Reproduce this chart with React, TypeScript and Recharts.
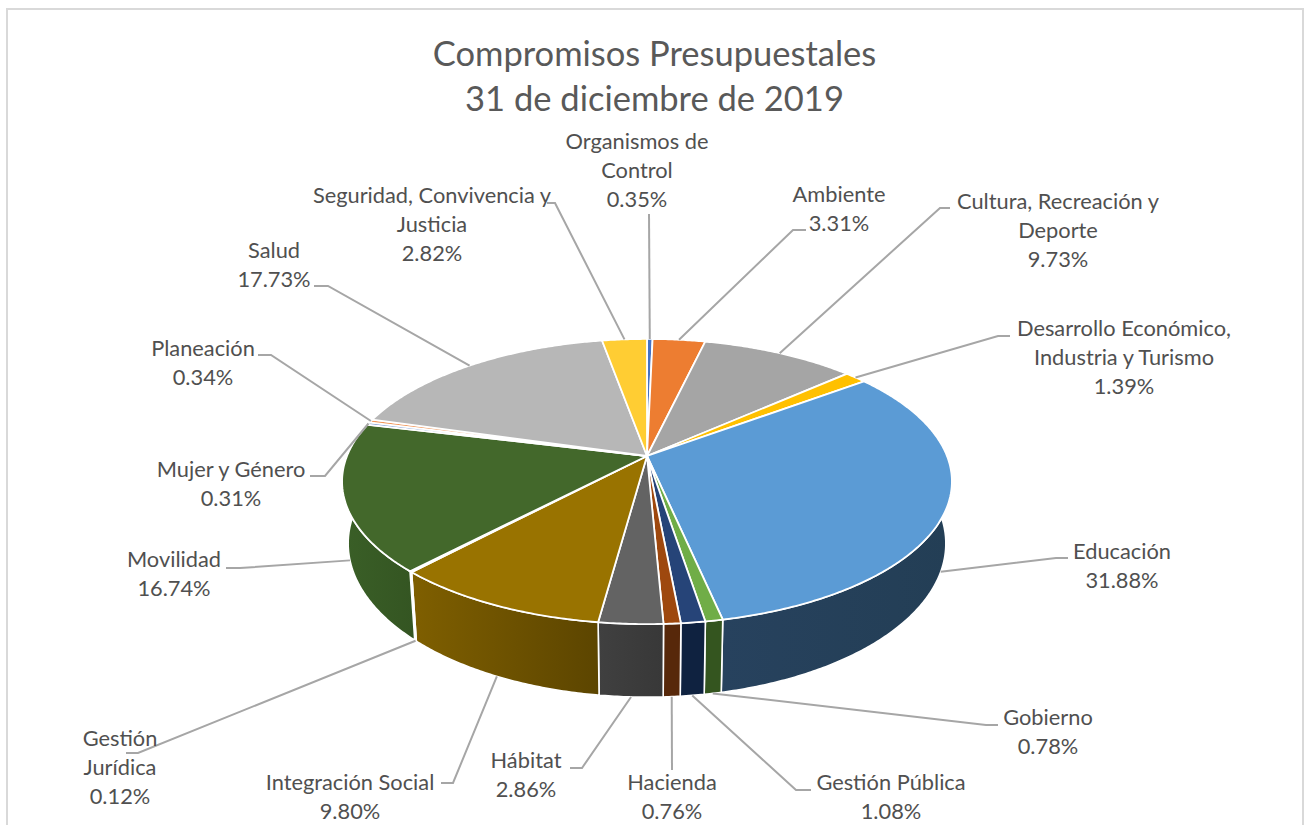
import React from 'react';
import { PieChart, Pie } from 'recharts';

const categories = [
  'Organismos de\nControl',
  'Ambiente',
  'Cultura, Recreación y\nDeporte',
  'Desarrollo Económico,\nIndustria y Turismo',
  'Educación',
  'Gobierno',
  'Gestión Pública',
  'Hacienda',
  'Hábitat',
  'Integración Social',
  'Gestión\nJurídica',
  'Movilidad',
  'Mujer y Género',
  'Planeación',
  'Salud',
  'Seguridad, Convivencia y\nJusticia',
];
const shares = [0.35, 3.31, 9.73, 1.39, 31.88, 0.78, 1.08, 0.76, 2.86, 9.8, 0.12, 16.74, 0.31, 0.34, 17.73, 2.82];
const topColors = [
  '#4472c4', '#ed7d31', '#a5a5a5', '#ffc000', '#5b9bd5', '#70ad47', '#264478', '#9e480e',
  '#636363', '#997300', '#255e91', '#43682b', '#698ed0', '#f1975a', '#b7b7b7', '#ffcd33',
];
const wallLeft = [
  '#27426f', '#8a4a1d', '#626262', '#977200', '#27425e', '#34551f', '#0f2240', '#57280a',
  '#404040', '#7f5f00', '#16385a', '#3a5f27', '#3e5a8a', '#8f5a36', '#6d6d6d', '#98791e',
];
const wallRight = [
  '#27426f', '#8a4a1d', '#626262', '#977200', '#233e55', '#34551f', '#0f2240', '#57280a',
  '#383838', '#5c4500', '#16385a', '#345522', '#3e5a8a', '#8f5a36', '#6d6d6d', '#98791e',
];

// where each label sits: centre x, first line y, then the leader line start and elbow
const labelSpots = [
  { x: 637, y: 140, from: [649, 214], elbow: [649, 214] },
  { x: 839, y: 193, from: [806, 230], elbow: [793, 230] },
  { x: 1058, y: 200, from: [950, 208], elbow: [940, 208] },
  { x: 1124, y: 327, from: [1010, 336], elbow: [998, 336] },
  { x: 1122, y: 550, from: [1068, 558], elbow: [1056, 558] },
  { x: 1048, y: 716, from: [998, 725], elbow: [986, 725] },
  { x: 891, y: 781, from: [811, 790], elbow: [796, 790] },
  { x: 672, y: 781, from: [672, 770], elbow: [672, 770] },
  { x: 526, y: 759, from: [570, 768], elbow: [582, 768] },
  { x: 350, y: 781, from: [441, 783], elbow: [453, 783] },
  { x: 120, y: 737, from: [126, 753], elbow: [138, 753] },
  { x: 174, y: 558, from: [226, 568], elbow: [240, 568] },
  { x: 231, y: 468, from: [310, 476], elbow: [325, 476] },
  { x: 203, y: 347, from: [258, 355], elbow: [271, 355] },
  { x: 274, y: 249, from: [314, 286], elbow: [328, 286] },
  { x: 432, y: 194, from: [547, 203], elbow: [555, 203] },
];

const tableData = categories.map((name, i) => ({
  id: i,
  name,
  value: shares[i],
  fill: topColors[i],
}));

// perspective of the tilted disc
const TILT = 0.179;
const FLATTEN = 0.46;
const DEPTH = 60;
const FLOOR_SHRINK = 0.98;
const FONT = 'Lato, "Open Sans", sans-serif';

const project = (cx: number, cy: number, r: number, angle: number, floor = false) => {
  const t = ((90 - angle) * Math.PI) / 180;
  const u = Math.sin(t);
  const v = Math.cos(t);
  const w = 1 + TILT * v;
  let x = (r * u) / w;
  let y = (-r * FLATTEN * v) / w;
  if (floor) {
    x *= FLOOR_SHRINK;
    y += DEPTH / w;
  }
  return [cx + x, cy + y];
};

const arcPoints = (props: any, floor = false) => {
  const { cx, cy, outerRadius, startAngle, endAngle } = props;
  const steps = Math.max(2, Math.ceil(Math.abs(endAngle - startAngle) * 2));
  const pts: number[][] = [];
  for (let i = 0; i <= steps; i++) {
    pts.push(project(cx, cy, outerRadius, startAngle + ((endAngle - startAngle) * i) / steps, floor));
  }
  return pts;
};

const toPath = (pts: number[][]) => 'M' + pts.map((p) => `${p[0].toFixed(2)},${p[1].toFixed(2)}`).join('L') + 'Z';

const WallShape = (props: any) => {
  const id = props.payload?.id ?? props.id;
  const top = arcPoints(props);
  const bottom = arcPoints(props, true).reverse();
  return (
    <g>
      <defs>
        <linearGradient id={`wall-${id}`} x1="0" y1="0" x2="1" y2="0">
          <stop offset="0%" stopColor={wallLeft[id]} />
          <stop offset="100%" stopColor={wallRight[id]} />
        </linearGradient>
      </defs>
      <path d={toPath([...top, ...bottom])} fill={`url(#wall-${id})`} stroke="#ffffff" strokeWidth={1.6} />
    </g>
  );
};

const TopShape = (props: any) => {
  const pts = arcPoints(props);
  return <path d={toPath([[props.cx, props.cy], ...pts])} fill={props.fill} stroke="#ffffff" strokeWidth={1.8} />;
};

const SliceLabel = (props: any) => {
  const { cx, cy, outerRadius, midAngle, index, value, name } = props;
  const spot = labelSpots[index];
  const t = ((90 - midAngle) * Math.PI) / 180;
  const front = Math.cos(t) < -0.2;
  const end = project(cx, cy, outerRadius, midAngle, front);
  const lines = [...String(name).split('\n'), `${Number(value).toFixed(2)}%`];
  return (
    <g>
      <polyline
        points={`${spot.from[0]},${spot.from[1]} ${spot.elbow[0]},${spot.elbow[1]} ${end[0]},${end[1]}`}
        fill="none"
        stroke="#a6a6a6"
        strokeWidth={2}
      />
      <text x={spot.x} y={spot.y} textAnchor="middle" fontFamily={FONT} fontSize={21.8} fill="#505050">
        {lines.map((line, i) => (
          <tspan key={i} x={spot.x} y={spot.y + i * 29.4} dominantBaseline="central">
            {line}
          </tspan>
        ))}
      </text>
    </g>
  );
};

export default function App() {
  return (
    <div style={{ position: 'absolute', left: 0, top: 0, width: 1309, height: 825, overflow: 'hidden', background: '#fff' }}>
      <div style={{ position: 'absolute', left: 6, top: 8, width: 1294, height: 840, border: '2px solid #d9d9d9' }} />
      <div
        style={{
          position: 'absolute',
          left: 0,
          top: 30,
          width: 1309,
          textAlign: 'center',
          fontFamily: FONT,
          fontSize: 34.5,
          lineHeight: '45px',
          color: '#595959',
        }}
      >
        Compromisos Presupuestales
        <br />
        31 de diciembre de 2019
      </div>
      <div style={{ position: 'absolute', left: 0, top: 0 }}>
        <PieChart width={1309} height={825} margin={{ top: 0, right: 0, bottom: 0, left: 0 }}>
          <Pie
            data={tableData}
            dataKey="value"
            nameKey="name"
            cx={647}
            cy={456}
            innerRadius={0}
            outerRadius={300}
            startAngle={90}
            endAngle={-270}
            isAnimationActive={false}
            shape={WallShape}
            label={false}
            labelLine={false}
          />
          <Pie
            data={tableData}
            dataKey="value"
            nameKey="name"
            cx={647}
            cy={456}
            innerRadius={0}
            outerRadius={300}
            startAngle={90}
            endAngle={-270}
            isAnimationActive={false}
            shape={TopShape}
            label={SliceLabel}
            labelLine={false}
          />
        </PieChart>
      </div>
    </div>
  );
}
